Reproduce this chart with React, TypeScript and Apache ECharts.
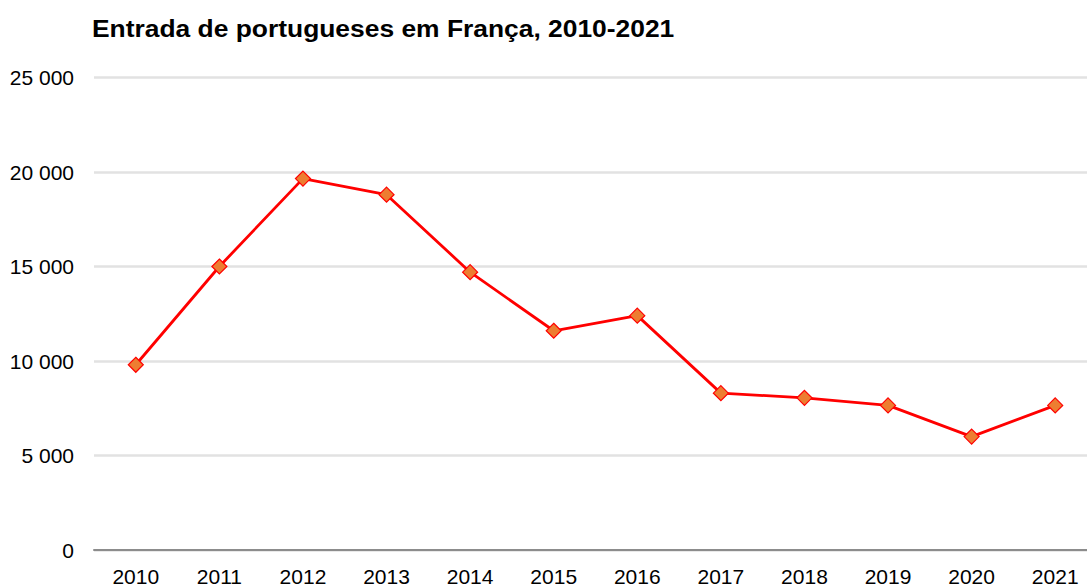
import React, { useEffect, useRef } from "react";
import * as echarts from "echarts";

const titleText = "Entrada de portugueses em França, 2010-2021";
const years = ["2010", "2011", "2012", "2013", "2014", "2015", "2016", "2017", "2018", "2019", "2020", "2021"];
const entries = [9800, 15000, 19650, 18800, 14700, 11600, 12400, 8300, 8050, 7650, 6000, 7650];
const yTicks = [0, 5000, 10000, 15000, 20000, 25000];

const FONT = "'Liberation Sans', Arial, Helvetica, sans-serif";

function fmt(v: number): string {
  return String(v).replace(/\B(?=(\d{3})+(?!\d))/g, " ");
}

export default function App() {
  const ref = useRef<HTMLDivElement | null>(null);
  useEffect(() => {
    if (!ref.current) return;
    const chart = echarts.init(ref.current, null, { renderer: "svg" });
    chart.setOption({
      animation: false,
      backgroundColor: "#ffffff",
      graphic: [
        {
          type: "text",
          x: 92,
          y: 16,
          scaleX: 1.1,
          style: {
            text: titleText,
            font: `bold 24px ${FONT}`,
            fill: "#000000",
            verticalAlign: "top",
          },
        },
      ],
      grid: { left: 94, top: 77.5, width: 1003, bottom: 33.5, containLabel: false },
      xAxis: {
        type: "category",
        data: years,
        boundaryGap: true,
        axisLine: { show: true, lineStyle: { color: "#8c8c8c", width: 2 } },
        axisTick: { show: false },
        axisLabel: { color: "#000000", fontSize: 21, fontFamily: FONT, margin: 16, interval: 0 },
        splitLine: { show: false },
      },
      yAxis: {
        type: "value",
        min: yTicks[0],
        max: yTicks[yTicks.length - 1],
        interval: yTicks[1] - yTicks[0],
        axisLine: { show: false },
        axisTick: { show: false },
        axisLabel: { color: "#000000", fontSize: 21, fontFamily: FONT, margin: 20, formatter: (v: number) => fmt(v) },
        splitLine: { show: true, lineStyle: { color: "#e2e2e2", width: 2.5 } },
      },
      series: [
        {
          type: "line",
          data: entries,
          symbol: "diamond",
          symbolSize: 15,
          lineStyle: { color: "#ff0000", width: 2.8 },
          itemStyle: { color: "#ed7d31", borderColor: "#ff0000", borderWidth: 1.2 },
          z: 3,
        },
      ],
    });
    return () => chart.dispose();
  }, []);
  return (
    <div
      ref={ref}
      style={{ position: "absolute", left: 0, top: 0, width: 1100, height: 587, overflow: "hidden" }}
    />
  );
}
